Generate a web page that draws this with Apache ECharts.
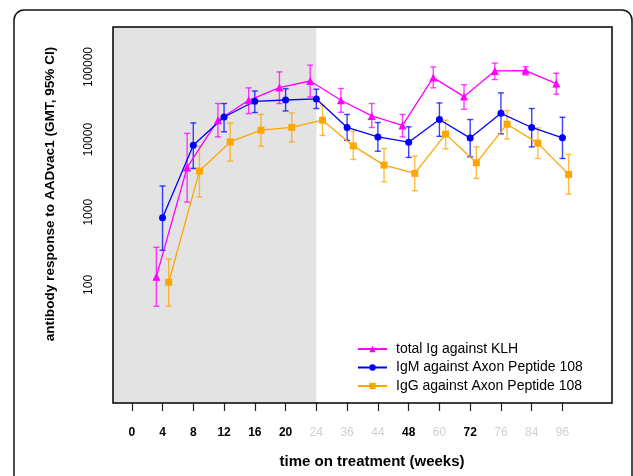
<!DOCTYPE html>
<html>
<head>
<meta charset="utf-8">
<script src="https://cdn.jsdelivr.net/npm/echarts@6/dist/echarts.min.js"></script>
<style>
  html, body { margin: 0; padding: 0; background: #fff; }
  #main { width: 633px; height: 476px; }
</style>
</head>
<body>
<div id="main"></div>
<script>
// tick labels along the x axis (weeks on treatment), equally spaced
var weeks = ['0', '4', '8', '12', '16', '20', '24', '36', '44', '48', '60', '72', '76', '84', '96'];
var grayWeeks = ['24', '36', '44', '60', '76', '84', '96'];
// measurements exist from week 4 on (tick index 1..14)
var visitIdx = [1, 2, 3, 4, 5, 6, 7, 8, 9, 10, 11, 12, 13, 14];

var klh   = [130, 4140, 18500, 34800, 52100, 64100, 34800, 21200, 15700, 71400, 39100, 88100, 89300, 59100];
var klhLo = [51, 1380, 10900, 22800, 31400, 38700, 23800, 14700, 10900, 51600, 26200, 67100, 77600, 42200];
var klhHi = [330, 12200, 31400, 51600, 85600, 106000, 50600, 31400, 22200, 100000, 57000, 113000, 101000, 81900];

var igm   = [841, 8390, 20500, 33700, 35100, 36300, 14700, 10900, 9230, 18900, 10500, 23000, 14700, 10600];
var igmLo = [300, 4010, 12800, 23600, 24800, 26800, 9770, 6930, 5690, 11100, 5800, 12000, 7940, 5500];
var igmHi = [2300, 17000, 31400, 46700, 50100, 49400, 22200, 17200, 15000, 32000, 18900, 44000, 26800, 20300];

var igg   = [109, 3690, 9300, 13500, 14700, 18500, 8200, 4460, 3430, 11900, 4800, 16300, 8940, 3320];
var iggLo = [51, 1630, 5060, 8130, 9230, 11400, 5330, 2630, 1980, 7460, 2920, 10200, 5500, 1780];
var iggHi = [228, 8130, 17000, 22200, 23300, 29800, 13100, 7550, 5930, 18500, 7940, 25100, 14500, 6250];

var yTicks = [100, 1000, 10000, 100000];

var xMin = -0.61, xMax = 15.61;
var font = 'Liberation Sans, Arial, Helvetica, sans-serif';

function points(vals, shift) {
    return vals.map(function (v, i) { return [visitIdx[i] + shift, v]; });
}
function bars(lo, hi, shift) {
    return lo.map(function (v, i) { return [visitIdx[i] + shift, v, hi[i]]; });
}
function errorSeries(name, lo, hi, shift, color) {
    return {
        type: 'custom',
        name: name,
        data: bars(lo, hi, shift),
        encode: { x: 0, y: [1, 2] },
        z: 2,
        silent: true,
        renderItem: function (params, api) {
            var a = api.coord([api.value(0), api.value(1)]);
            var b = api.coord([api.value(0), api.value(2)]);
            var w = 3;
            var st = { stroke: color, lineWidth: 1.4, opacity: 0.75 };
            return {
                type: 'group',
                children: [
                    { type: 'line', shape: { x1: a[0], y1: a[1], x2: b[0], y2: b[1] }, style: st },
                    { type: 'line', shape: { x1: a[0] - w, y1: a[1], x2: a[0] + w, y2: a[1] }, style: st },
                    { type: 'line', shape: { x1: b[0] - w, y1: b[1], x2: b[0] + w, y2: b[1] }, style: st }
                ]
            };
        }
    };
}

var chart = echarts.init(document.getElementById('main'));
var option = {
    animation: false,
    backgroundColor: '#fff',
    textStyle: { fontFamily: font },
    grid: {
        left: 113, right: 21, top: 27, bottom: 73,
        show: true, borderColor: '#000', borderWidth: 1.5, backgroundColor: 'transparent', z: 10
    },
    xAxis: {
        type: 'value',
        min: xMin, max: xMax,
        splitLine: { show: false },
        axisLine: { show: false },
        axisTick: {
            customValues: weeks.map(function (w, i) { return i; }),
            length: 8, lineStyle: { color: '#222', width: 1.2 }
        },
        axisLabel: {
            customValues: weeks.map(function (w, i) { return i; }),
            margin: 24,
            formatter: function (v) {
                var w = weeks[Math.round(v)];
                return grayWeeks.indexOf(w) >= 0 ? '{g|' + w + '}' : '{b|' + w + '}';
            },
            rich: {
                b: { fontSize: 12, fontWeight: 'bold', color: '#000', fontFamily: font },
                g: { fontSize: 12, color: '#d0d0d0', fontFamily: font }
            }
        }
    },
    yAxis: {
        type: 'log',
        logBase: 10,
        min: 2.37, max: 355000,
        splitLine: { show: false },
        axisLine: { show: false },
        axisTick: { customValues: yTicks, length: 8, lineStyle: { color: '#222', width: 1.2 } },
        axisLabel: {
            customValues: yTicks,
            rotate: 90,
            margin: 18,
            fontSize: 12,
            color: '#000',
            fontFamily: font,
            formatter: function (v) { return String(Math.round(v)); }
        }
    },
    legend: {
        orient: 'vertical',
        left: 352, top: 337,
        itemWidth: 29, itemHeight: 8, itemGap: 4.5,
        textStyle: { fontSize: 14, color: '#000', fontFamily: font, padding: [0, 0, 0, 4] },
        data: ['total Ig against KLH', 'IgM against Axon Peptide 108', 'IgG against Axon Peptide 108']
    },
    graphic: [
        {
            type: 'rect', z: -1,
            shape: { x: 14, y: 10, width: 618, height: 520, r: 10 },
            style: { fill: 'none', stroke: '#111', lineWidth: 1.5 }
        },
        {
            type: 'text', x: 50, y: 194, rotation: Math.PI / 2,
            style: {
                text: 'antibody response to AADvac1 (GMT, 95% CI)',
                align: 'center', verticalAlign: 'middle',
                font: 'bold 13.6px ' + font, fill: '#000'
            }
        },
        {
            type: 'text', x: 372, y: 462,
            style: {
                text: 'time on treatment (weeks)',
                align: 'center', verticalAlign: 'middle',
                font: 'bold 15px ' + font, fill: '#000'
            }
        }
    ],
    series: [
        {
            type: 'line', name: 'total Ig against KLH',
            data: points(klh, -0.2),
            color: '#ff00ff', symbol: 'triangle', symbolSize: 8,
            lineStyle: { width: 1.3 }, z: 3,
            markArea: {
                silent: true,
                itemStyle: { color: '#e3e3e3' },
                data: [[{ xAxis: xMin }, { xAxis: 6 }]]
            }
        },
        {
            type: 'line', name: 'IgM against Axon Peptide 108',
            data: points(igm, 0),
            color: '#0000ff', symbol: 'circle', symbolSize: 7,
            lineStyle: { width: 1.3 }, z: 3
        },
        {
            type: 'line', name: 'IgG against Axon Peptide 108',
            data: points(igg, 0.2),
            color: '#ffa500', symbol: 'rect', symbolSize: 7,
            lineStyle: { width: 1.3 }, z: 3
        },
        errorSeries('klhErr', klhLo, klhHi, -0.2, '#ff00ff'),
        errorSeries('igmErr', igmLo, igmHi, 0, '#0000ff'),
        errorSeries('iggErr', iggLo, iggHi, 0.2, '#ffa500')
    ]
};
chart.setOption(option);
window.onresize = chart.resize;
</script>
</body>
</html>
